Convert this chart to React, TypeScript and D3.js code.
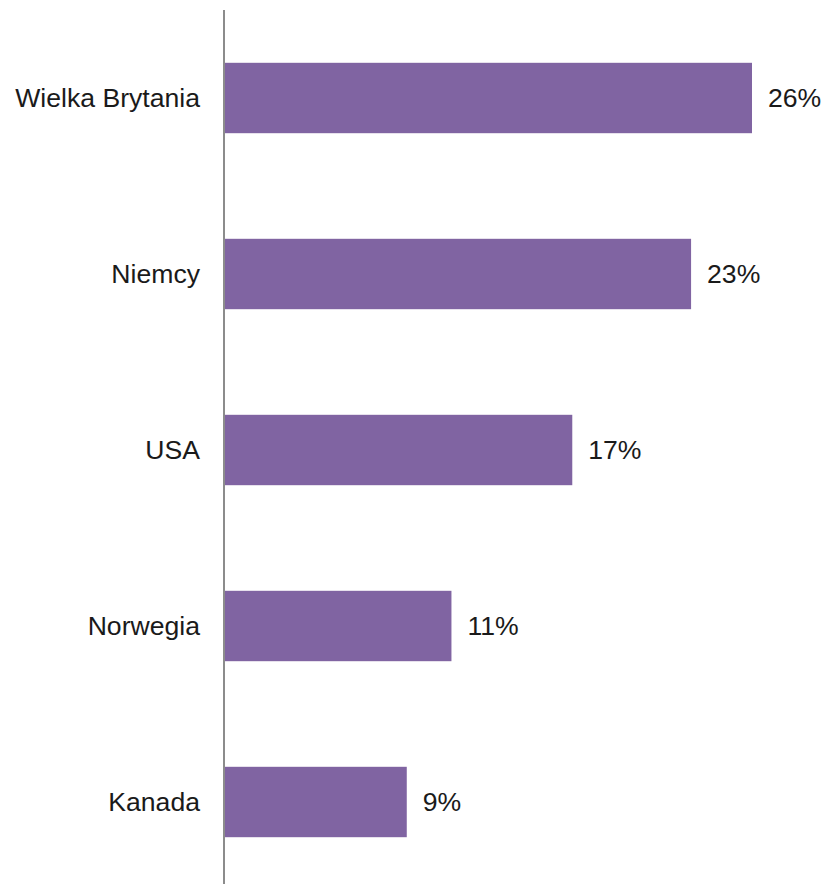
import React from "react";
import * as d3 from "d3";

const categories = ["Wielka Brytania", "Niemcy", "USA", "Norwegia", "Kanada"];
const values = [26, 23, 17.15, 11.2, 9];
const valueLabels = ["26%", "23%", "17%", "11%", "9%"];

const W = 825;
const H = 884;

export default function App() {
  const axisX = 224;
  const x = d3.scaleLinear().domain([0, 26]).range([axisX, 752]);
  const y = d3
    .scaleBand<string>()
    .domain(categories)
    .range([10, 890])
    .paddingInner(0.6)
    .paddingOuter(0.3);
  const font = "'Liberation Sans', Arial, Helvetica, sans-serif";
  return (
    <svg
      width={W}
      height={H}
      style={{ position: "absolute", left: 0, top: 0, background: "#fff" }}
    >
      {categories.map((c, i) => {
        const yb = y(c)!;
        const bw = y.bandwidth();
        return (
          <g key={c}>
            <rect
              x={axisX}
              y={yb}
              width={x(values[i]) - axisX}
              height={bw}
              fill="#8064A2"
            />
            <text
              x={200}
              y={yb + bw / 2}
              dy="0.35em"
              textAnchor="end"
              fontFamily={font}
              fontSize={26.6}
              fill="#1a1a1a"
            >
              {c}
            </text>
            <text
              x={x(values[i]) + 16}
              y={yb + bw / 2}
              dy="0.35em"
              textAnchor="start"
              fontFamily={font}
              fontSize={26.6}
              fill="#1a1a1a"
            >
              {valueLabels[i]}
            </text>
          </g>
        );
      })}
      <line
        x1={axisX}
        x2={axisX}
        y1={10}
        y2={H}
        stroke="#8c8c8c"
        strokeWidth={2}
      />
    </svg>
  );
}
